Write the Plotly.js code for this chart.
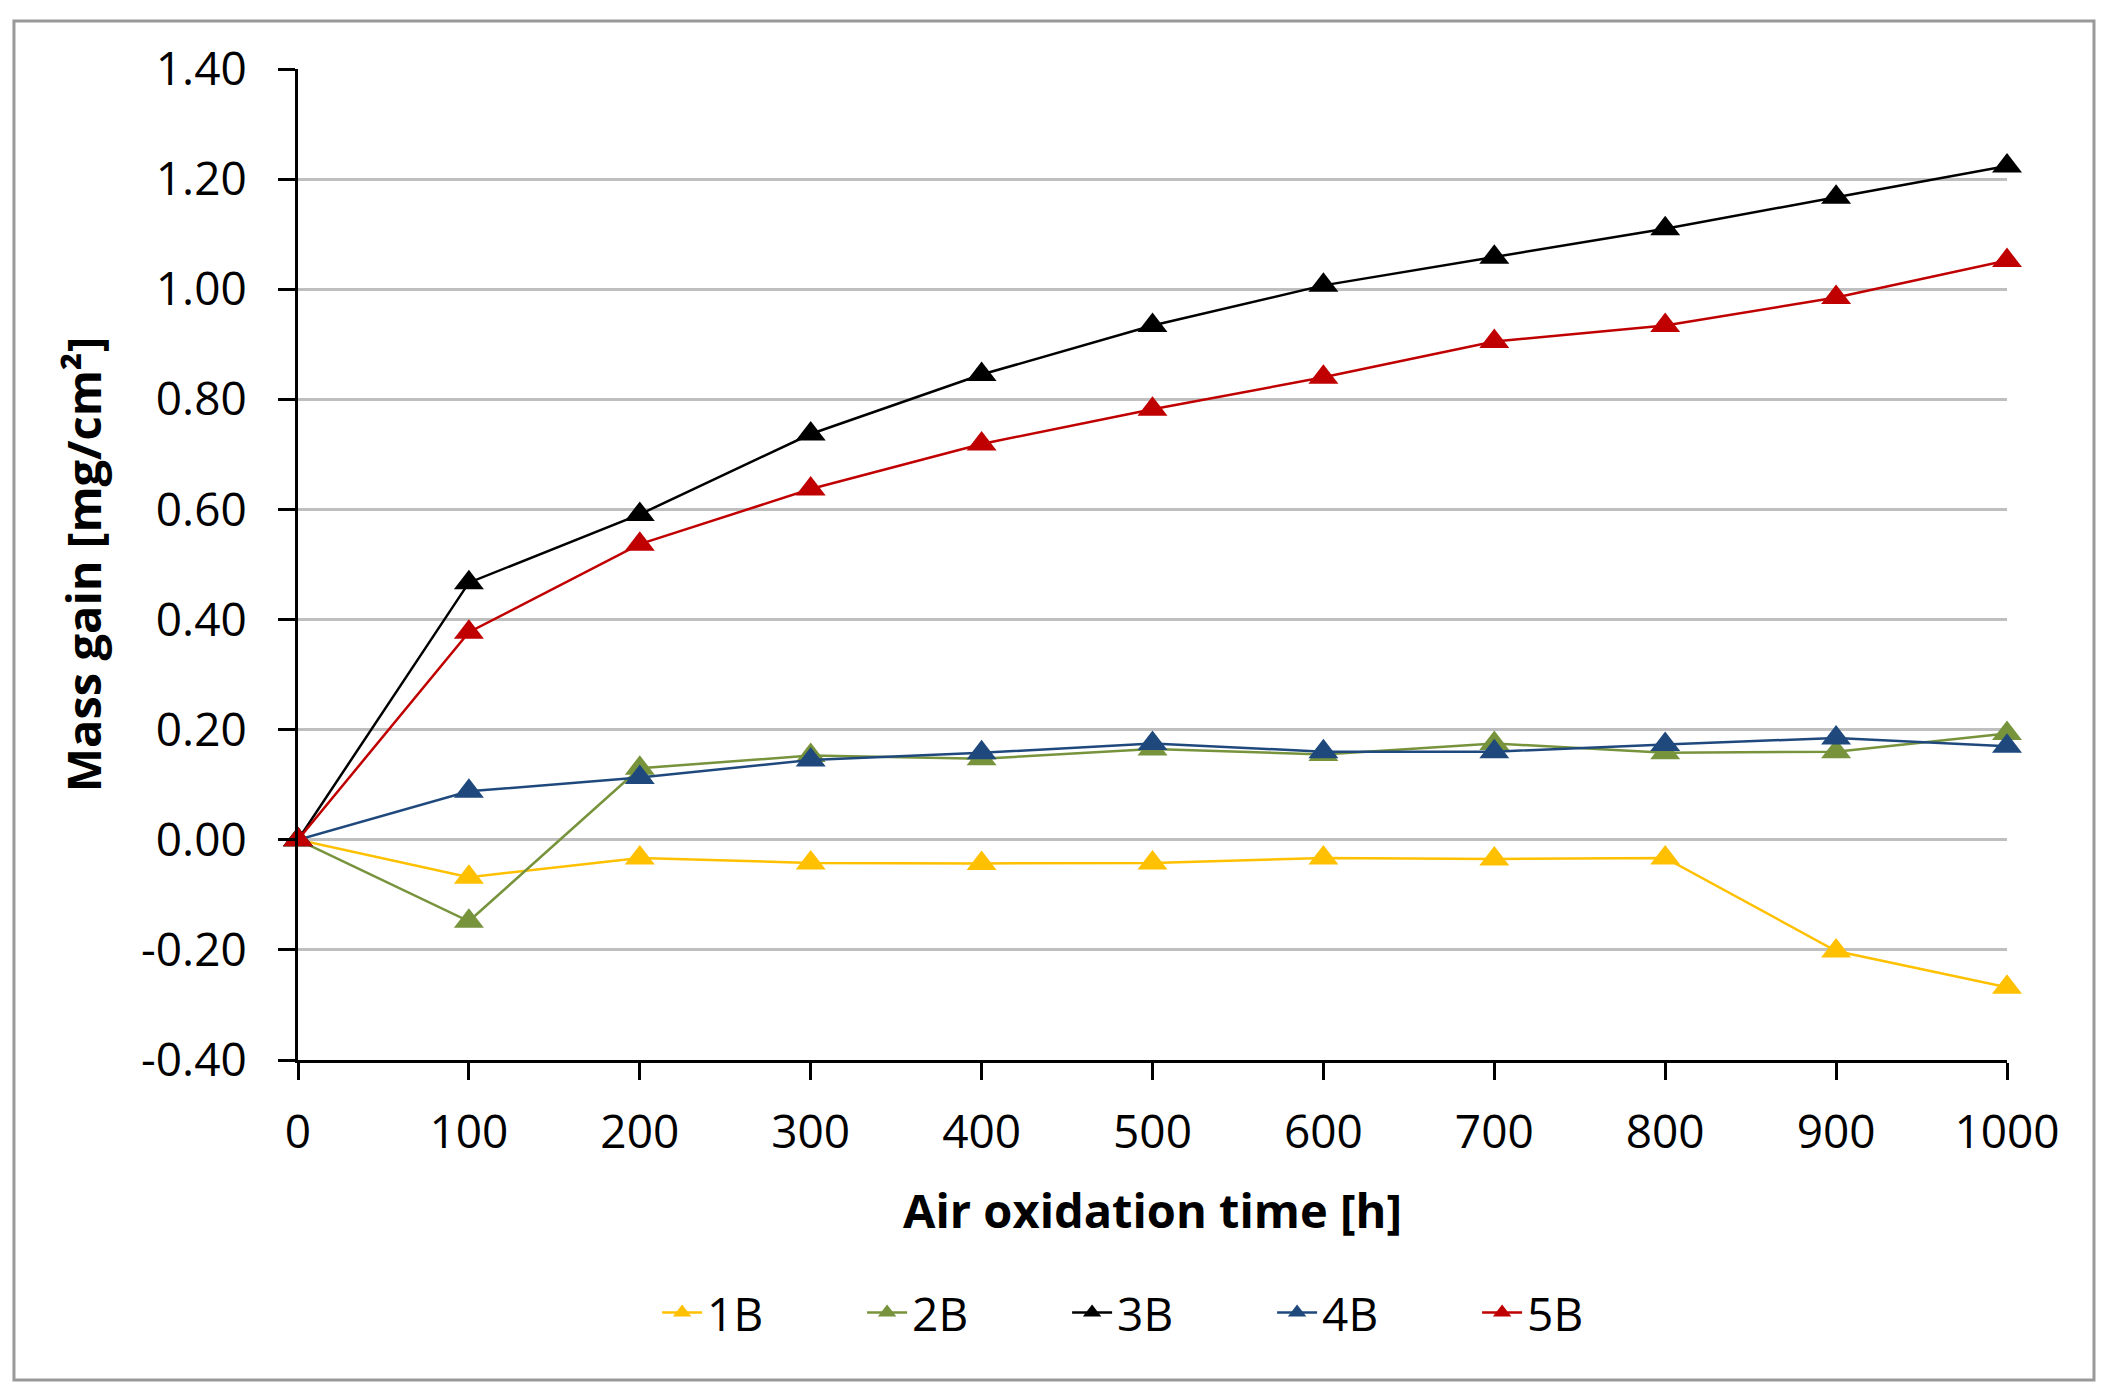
<!DOCTYPE html>
<html>
<head>
<meta charset="utf-8">
<script src="https://cdn.plot.ly/plotly-3.0.1.min.js"></script>
<style>html,body{margin:0;padding:0;background:#fff;}#chart{width:2111px;height:1400px;}</style>
</head>
<body>
<div id="chart"></div>
<script>
const time = [0, 100, 200, 300, 400, 500, 600, 700, 800, 900, 1000];
const series1B = [0, -0.068, -0.033, -0.042, -0.043, -0.042, -0.033, -0.035, -0.033, -0.202, -0.268];
const series2B = [0, -0.148, 0.130, 0.153, 0.147, 0.165, 0.155, 0.175, 0.158, 0.160, 0.193];
const series3B = [0, 0.467, 0.591, 0.737, 0.845, 0.934, 1.007, 1.058, 1.110, 1.167, 1.224];
const series4B = [0, 0.088, 0.113, 0.145, 0.158, 0.175, 0.160, 0.160, 0.173, 0.185, 0.170];
const series5B = [0, 0.377, 0.537, 0.637, 0.719, 0.782, 0.840, 0.905, 0.934, 0.985, 1.052];
const seriesNames = ['1B', '2B', '3B', '4B', '5B'];
const seriesColors = ['#FFC000', '#77933C', '#000000', '#1F497D', '#C00000'];
const yTickVals = [-0.4, -0.2, 0, 0.2, 0.4, 0.6, 0.8, 1.0, 1.2, 1.4];
const yTickText = ['-0.40', '-0.20', '0.00', '0.20', '0.40', '0.60', '0.80', '1.00', '1.20', '1.40'];
const xTickVals = [0, 100, 200, 300, 400, 500, 600, 700, 800, 900, 1000];

const allSeries = [series1B, series2B, series3B, series4B, series5B];
const FONT = 'Open Sans, sans-serif';

const traces = allSeries.map((vals, i) => ({
  x: time,
  y: vals,
  name: seriesNames[i],
  type: 'scatter',
  mode: 'lines+markers',
  line: {color: seriesColors[i], width: 2.5},
  marker: {symbol: 'triangle-up', size: 26, color: seriesColors[i]},
  cliponaxis: false
}));

const layout = {
  width: 2111,
  height: 1400,
  margin: {l: 298, r: 104, t: 69, b: 340},
  paper_bgcolor: '#ffffff',
  plot_bgcolor: '#ffffff',
  font: {family: FONT, size: 46, color: '#000000'},
  showlegend: true,
  legend: {
    orientation: 'h',
    x: 0.51, xanchor: 'center',
    y: -0.255, yanchor: 'middle',
    font: {family: FONT, size: 46, color: '#000000'},
    entrywidth: 150, entrywidthmode: 'pixels',
    itemwidth: 40,
    bgcolor: 'rgba(0,0,0,0)'
  },
  xaxis: {
    range: [0, 1000],
    tickvals: xTickVals,
    showline: true, linecolor: '#000000', linewidth: 3,
    ticks: 'outside', ticklen: 17, tickwidth: 3, tickcolor: '#000000',
    showgrid: false, zeroline: false,
    ticklabelstandoff: 13,
    tickfont: {family: FONT, size: 46, color: '#000000'},
    title: {text: '<b>Air oxidation time [h]</b>', font: {family: FONT, size: 47, color: '#000000'}, standoff: 35}
  },
  yaxis: {
    range: [-0.4, 1.4],
    tickvals: yTickVals,
    ticktext: yTickText,
    showline: true, linecolor: '#000000', linewidth: 3,
    ticks: 'outside', ticklen: 17, tickwidth: 3, tickcolor: '#000000',
    showgrid: true, gridcolor: '#bfbfbf', gridwidth: 3,
    zeroline: false,
    ticklabelstandoff: 22,
    tickfont: {family: FONT, size: 46, color: '#000000'},
    title: {text: '<b>Mass gain [mg/cm²]</b>', font: {family: FONT, size: 47, color: '#000000'}, standoff: 25}
  },
  shapes: [{
    type: 'rect', xref: 'paper', yref: 'paper',
    x0: -0.1662, x1: 1.0509, y0: -0.3229, y1: 1.0484,
    line: {color: '#999999', width: 3},
    fillcolor: 'rgba(0,0,0,0)',
    layer: 'below'
  }]
};

Plotly.newPlot('chart', traces, layout, {displayModeBar: false, responsive: false});
</script>
</body>
</html>
